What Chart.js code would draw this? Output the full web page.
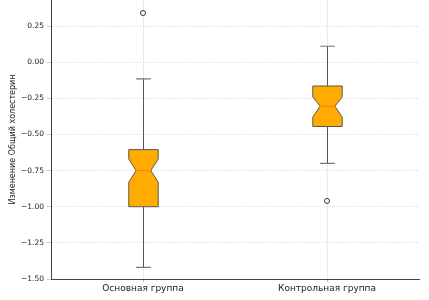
<!DOCTYPE html>
<html>
<head>
<meta charset="utf-8">
<script src="https://cdn.jsdelivr.net/npm/chart.js@4"></script>
<style>
  html, body { margin: 0; padding: 0; background: #fff; }
</style>
</head>
<body>
<canvas id="box" width="429" height="300"></canvas>
<script>
// values
const groups = ['Основная группа', 'Контрольная группа'];
const whiskerLow = [-1.42, -0.70];
const q1 = [-1.00, -0.445];
const median = [-0.75, -0.305];
const q3 = [-0.605, -0.165];
const whiskerHigh = [-0.115, 0.11];
const notchLow = [-0.83, -0.38];
const notchHigh = [-0.67, -0.24];
const outliers = [[0.34], [-0.96]];
const yTicks = [-1.5, -1.25, -1.0, -0.75, -0.5, -0.25, 0.0, 0.25];

const font = "'DejaVu Sans', sans-serif";

let outlierPoints = [];
outliers.forEach((list, i) => {
  list.forEach(v => outlierPoints.push({ x: groups[i], y: v }));
});

// draws the notched boxes through the chart scales
const boxPlugin = {
  id: 'boxes',
  beforeDatasetsDraw(chart) {
    const ctx = chart.ctx;
    const xs = chart.scales.x;
    const ys = chart.scales.y;
    const band = xs.width / groups.length;
    const half = band * 0.08;
    groups.forEach((g, i) => {
      const cx = Math.round(xs.getPixelForValue(i)) + 0.5;
      const y = v => ys.getPixelForValue(v);
      ctx.save();
      ctx.lineWidth = 1;
      ctx.strokeStyle = '#555';
      // whiskers
      ctx.beginPath();
      ctx.moveTo(cx, y(q3[i])); ctx.lineTo(cx, y(whiskerHigh[i]));
      ctx.moveTo(cx, y(q1[i])); ctx.lineTo(cx, y(whiskerLow[i]));
      ctx.stroke();
      // caps
      ctx.strokeStyle = '#777';
      ctx.lineWidth = 1.2;
      ctx.beginPath();
      ctx.moveTo(cx - half / 2, y(whiskerHigh[i])); ctx.lineTo(cx + half / 2, y(whiskerHigh[i]));
      ctx.moveTo(cx - half / 2, y(whiskerLow[i])); ctx.lineTo(cx + half / 2, y(whiskerLow[i]));
      ctx.stroke();
      // notched box
      ctx.beginPath();
      ctx.moveTo(cx - half, y(q1[i]));
      ctx.lineTo(cx - half, y(notchLow[i]));
      ctx.lineTo(cx - half / 2, y(median[i]));
      ctx.lineTo(cx - half, y(notchHigh[i]));
      ctx.lineTo(cx - half, y(q3[i]));
      ctx.lineTo(cx + half, y(q3[i]));
      ctx.lineTo(cx + half, y(notchHigh[i]));
      ctx.lineTo(cx + half / 2, y(median[i]));
      ctx.lineTo(cx + half, y(notchLow[i]));
      ctx.lineTo(cx + half, y(q1[i]));
      ctx.closePath();
      ctx.fillStyle = '#ffab00';
      ctx.fill();
      ctx.strokeStyle = '#5a5a50';
      ctx.lineWidth = 1;
      ctx.stroke();
      // median
      ctx.strokeStyle = '#ff7f0e';
      ctx.lineWidth = 1.2;
      ctx.beginPath();
      ctx.moveTo(cx - half / 2, y(median[i]));
      ctx.lineTo(cx + half / 2, y(median[i]));
      ctx.stroke();
      ctx.restore();
    });
  }
};

new Chart(document.getElementById('box'), {
  type: 'scatter',
  data: {
    datasets: [{
      data: outlierPoints,
      pointStyle: 'circle',
      pointRadius: 2.5,
      pointBackgroundColor: '#fff',
      pointBorderColor: '#333',
      pointBorderWidth: 1
    }]
  },
  plugins: [boxPlugin],
  options: {
    responsive: false,
    animation: false,
    devicePixelRatio: 1,
    layout: { autoPadding: false, padding: { top: 0, right: 10, bottom: 0, left: 0 } },
    plugins: { legend: { display: false }, tooltip: { enabled: false } },
    scales: {
      x: {
        type: 'category',
        labels: groups,
        offset: true,
        grid: { offset: false, color: '#e8e8e8', lineWidth: 1, tickLength: 3, tickColor: '#bbb' },
        border: { color: '#444', width: 1 },
        ticks: { color: '#222', font: { family: font, size: 9 }, padding: 1 },
        afterFit(scale) { scale.height = 21; }
      },
      y: {
        min: -1.5,
        max: 0.43,
        afterBuildTicks(scale) { scale.ticks = yTicks.map(v => ({ value: v })); },
        grid: { color: '#e3e3e3', lineWidth: 1, tickLength: 4, tickColor: '#ccc' },
        border: { color: '#444', width: 1, dash: [2, 1.5] },
        ticks: {
          color: '#222',
          padding: 3,
          font: { family: font, size: 7.5 },
          callback: v => (v < 0 ? '\u2212' : '') + Math.abs(v).toFixed(2)
        },
        title: {
          display: true,
          text: 'Изменение Общий холестерин',
          color: '#222',
          font: { family: font, size: 8 },
          padding: { top: 8, bottom: 2 }
        },
        afterFit(scale) {
          scale.width = 51;
          scale.paddingTop = 0;
          scale.paddingBottom = 0;
        }
      }
    }
  }
});
</script>
</body>
</html>
